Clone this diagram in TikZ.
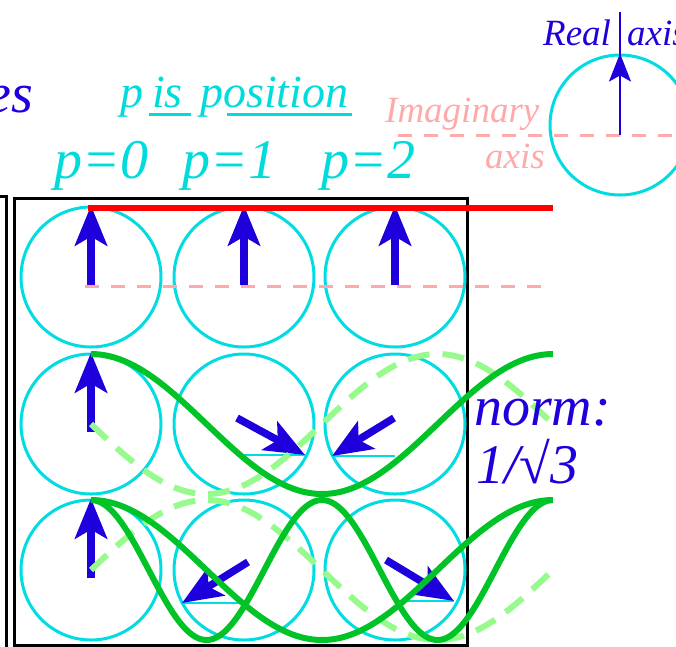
\documentclass[tikz,border=0pt]{standalone}
\usepackage{fontspec}
\setmainfont{Liberation Serif}
\usetikzlibrary{arrows.meta}
\definecolor{ringc}{RGB}{0,220,225}
\definecolor{txtcyan}{RGB}{0,220,220}
\definecolor{bluec}{RGB}{30,0,220}
\definecolor{pinkc}{RGB}{255,170,170}
\definecolor{greenc}{RGB}{0,195,40}
\definecolor{lgreen}{RGB}{150,250,140}
\definecolor{redc}{RGB}{255,0,0}
\begin{document}
\begin{tikzpicture}[x=1pt,y=-1pt,
  ring/.style={circle,draw=ringc,line width=3pt,minimum size=140pt,inner sep=0pt},
  phasor/.style={draw=bluec,line width=7.5pt,-{Stealth[length=40pt,width=32pt,inset=9pt]}},
  projline/.style={draw=ringc,line width=1.5pt},
  frame/.style={draw=black,line width=3pt},
  pinkdash/.style={draw=pinkc,line width=3pt,dash pattern=on 14pt off 12pt},
  gsolid/.style={draw=greenc,line width=6pt},
  gdash/.style={draw=lgreen,line width=6pt,dash pattern=on 22pt off 13pt},
  txt/.style={inner sep=0pt,anchor=base west},
  big/.style={font=\fontsize{56pt}{60pt}\selectfont\itshape},
  mid/.style={font=\fontsize{46pt}{50pt}\selectfont\itshape},
  small/.style={font=\fontsize{37pt}{40pt}\selectfont\itshape}
]
\useasboundingbox (0,0) rectangle (676,646);

% frames
\draw[frame] (-20,196) -- (6,196) -- (6,680);
\draw[frame] (14,198) rectangle (467,645);

% rings
\node[ring] (c11) at (91,277) {};
\node[ring] (c12) at (244,277) {};
\node[ring] (c13) at (395,277) {};
\node[ring] (c21) at (91,424) {};
\node[ring] (c22) at (244,424) {};
\node[ring] (c23) at (395,424) {};
\node[ring] (c31) at (91,570) {};
\node[ring] (c32) at (244,570) {};
\node[ring] (c33) at (395,570) {};
\node[ring] (big) at (620,125) {};

% projections
\draw[projline] (244,455) -- (305,455);
\draw[projline] (332,456) -- (395,456);
\draw[projline] (182,603) -- (244,603);
\draw[projline] (395,601) -- (454,601);

% phasors
\draw[phasor] ([yshift=-8pt]c11.center) -- (c11.north);
\draw[phasor] ([yshift=-8pt]c12.center) -- (c12.north);
\draw[phasor] ([yshift=-8pt]c13.center) -- (c13.north);
\draw[phasor] ([yshift=-8pt]c21.center) -- (c21.north);
\draw[phasor] ([yshift=-8pt]c31.center) -- (c31.north);
\draw[phasor] (237,418) -- (305,455);
\draw[phasor] (394,418) -- (332,456);
\draw[phasor] (248,562) -- (182,603);
\draw[phasor] (386,560) -- (454,601);

% imaginary axes
\draw[pinkdash] (85,286) -- (542,286);
\draw[pinkdash] (398,135) -- (690,135);

% mode p-curves
\draw[redc,line width=6pt] (88,208) -- (553,208);
\draw[gdash] plot[domain=0:3,samples=120,smooth] ({91+154*\x},{424+70*sin(120*\x)});
\draw[gdash] plot[domain=0:3,samples=120,smooth] ({91+154*\x},{570-70*sin(120*\x)});
\draw[gsolid] plot[domain=0:3,samples=120,smooth] ({91+154*\x},{424-70*cos(120*\x)});
\draw[gsolid] plot[domain=0:3,samples=120,smooth] ({91+154*\x},{570-70*cos(120*\x)});
\draw[gsolid] plot[domain=0:3,samples=160,smooth] ({91+154*\x},{570-70*cos(240*\x)});

% real axis
\draw[bluec,line width=2pt] (620,135) -- (620,12);
\draw[bluec,line width=2pt,-{Stealth[length=28pt,width=22pt,inset=6pt]}] (620,135) -- (big.north);

% texts
\node[txt,big,text=bluec,anchor=base east] (es) at (33,112) {es};
\node[txt,mid,text=txtcyan] (tp) at (120,107) {p};
\node[txt,mid,text=txtcyan] (tis) at (152,107) {is};
\node[txt,mid,text=txtcyan] (tpos) at (200,107) {position};
\draw[txtcyan,line width=3pt] (149,114) -- (191,114);
\draw[txtcyan,line width=3pt] (227,114) -- (352,114);
\node[txt,big,text=txtcyan] (p0) at (54,178) {p=0};
\node[txt,big,text=txtcyan] (p1) at (182,178) {p=1};
\node[txt,big,text=txtcyan] (p2) at (321,178) {p=2};
\node[txt,small,text=pinkc] (imag) at (385,122) {Imaginary};
\node[txt,small,text=pinkc,anchor=base east] (imaxis) at (545,168) {axis};
\node[txt,small,text=bluec] (real) at (543,45) {Real};
\node[txt,small,text=bluec] (reaxis) at (627,45) {axis};
\node[txt,big,text=bluec] (norm) at (474,425) {norm:};
\node[txt,big,text=bluec] (nval) at (476,483) {1/√3};
\end{tikzpicture}
\end{document}
